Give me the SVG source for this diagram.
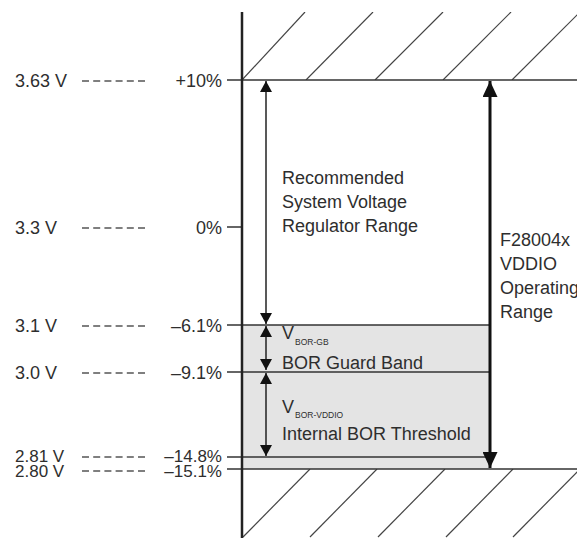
<svg xmlns="http://www.w3.org/2000/svg" width="577" height="538" viewBox="0 0 577 538">
<style>
text{font-family:"Liberation Sans",Arial,sans-serif;font-size:18px;fill:#2e2e2e}
.r{text-anchor:end}
.tight{font-size:17px}
.sub{font-size:8.5px}
.lvl{stroke:#333;stroke-width:1.5;fill:none}
.lead{stroke:#555;stroke-width:1.6;stroke-dasharray:7 4.2;fill:none}
.hatch{stroke:#444;stroke-width:1.2;fill:none}
.thin{stroke:#222;stroke-width:1.5;fill:none;marker-start:url(#ah);marker-end:url(#ah)}
.thick{stroke:#111;stroke-width:3;fill:none;marker-start:url(#ahb);marker-end:url(#ahb)}
</style>
<defs>
<marker id="ah" markerUnits="userSpaceOnUse" markerWidth="11" markerHeight="12" viewBox="0 0 11 12" refX="11" refY="6" orient="auto-start-reverse"><path d="M0,0 L11,6 L0,12 z" fill="#111"/></marker>
<marker id="ahb" markerUnits="userSpaceOnUse" markerWidth="16" markerHeight="15" viewBox="0 0 16 15" refX="16" refY="7.5" orient="auto-start-reverse"><path d="M0,0 L16,7.5 L0,15 z" fill="#111"/></marker>
<clipPath id="clipTop"><rect x="242" y="12" width="335" height="68"/></clipPath>
<clipPath id="clipBot"><rect x="242" y="469" width="335" height="69"/></clipPath>
</defs>
<rect width="577" height="538" fill="#fff"/>
<g id="bands">
<rect x="242" y="325" width="248" height="144" fill="#e4e4e4"/>
</g>
<g id="hatch-top" clip-path="url(#clipTop)">
<line class="hatch" x1="242" y1="80" x2="305" y2="12"/>
<line class="hatch" x1="306" y1="80" x2="373" y2="12"/>
<line class="hatch" x1="375" y1="80" x2="443" y2="12"/>
<line class="hatch" x1="443" y1="80" x2="511" y2="12"/>
<line class="hatch" x1="512" y1="80" x2="580" y2="12"/>
</g>
<g id="hatch-bottom" clip-path="url(#clipBot)">
<line class="hatch" x1="243" y1="537" x2="310" y2="469"/>
<line class="hatch" x1="310" y1="537" x2="377" y2="469"/>
<line class="hatch" x1="378" y1="537" x2="445" y2="469"/>
<line class="hatch" x1="446" y1="537" x2="513" y2="469"/>
<line class="hatch" x1="513" y1="537" x2="580" y2="469"/>
</g>
<g id="levels">
<line class="lvl" x1="227" y1="80" x2="577" y2="80"/>
<line class="lvl" x1="227" y1="227" x2="242" y2="227"/>
<line class="lvl" x1="227" y1="325" x2="490" y2="325"/>
<line class="lvl" x1="227" y1="372" x2="490" y2="372"/>
<line class="lvl" x1="227" y1="457" x2="490" y2="457"/>
<line class="lvl" x1="227" y1="469" x2="577" y2="469"/>
</g>
<g id="axis">
<line x1="242" y1="12" x2="242" y2="538" stroke="#222" stroke-width="2.5"/>
</g>
<g id="leaders">
<line class="lead" x1="82" y1="81" x2="145" y2="81"/>
<line class="lead" x1="82" y1="228" x2="145" y2="228"/>
<line class="lead" x1="82" y1="326" x2="145" y2="326"/>
<line class="lead" x1="82" y1="373" x2="145" y2="373"/>
<line class="lead" x1="82" y1="457" x2="145" y2="457"/>
<line class="lead" x1="82" y1="471" x2="145" y2="471"/>
</g>
<g id="voltage-labels">
<text x="15" y="87">3.63 V</text>
<text x="15" y="234">3.3 V</text>
<text x="15" y="332">3.1 V</text>
<text x="15" y="379">3.0 V</text>
<text class="tight" x="15" y="462">2.81 V</text>
<text class="tight" x="15" y="477">2.80 V</text>
</g>
<g id="percent-labels">
<text class="r" x="222" y="87">+10%</text>
<text class="r" x="222" y="234">0%</text>
<text class="r" x="222" y="332">–6.1%</text>
<text class="r" x="222" y="379">–9.1%</text>
<text class="r tight" x="222" y="462">–14.8%</text>
<text class="r tight" x="222" y="477">–15.1%</text>
</g>
<g id="connectors">
<line class="thin" x1="266" y1="81" x2="266" y2="324"/>
<line class="thin" x1="266" y1="326" x2="266" y2="370"/>
<line class="thin" x1="266" y1="373" x2="266" y2="456"/>
<line class="thick" x1="490" y1="81" x2="490" y2="468"/>
</g>
<g id="regulator-range">
<text x="282" y="184">Recommended</text>
<text x="282" y="208">System Voltage</text>
<text x="282" y="232">Regulator Range</text>
</g>
<g id="operating-range">
<text x="500" y="246">F28004x</text>
<text x="500" y="270">VDDIO</text>
<text x="500" y="294">Operating</text>
<text x="500" y="318">Range</text>
</g>
<g id="bor-guard-band">
<text x="282" y="339">V<tspan class="sub" dx="1" dy="6">BOR-GB</tspan></text>
<text x="282" y="369">BOR Guard Band</text>
</g>
<g id="bor-threshold">
<text x="282" y="413">V<tspan class="sub" dx="1" dy="5">BOR-VDDIO</tspan></text>
<text x="282" y="440">Internal BOR Threshold</text>
</g>
</svg>
